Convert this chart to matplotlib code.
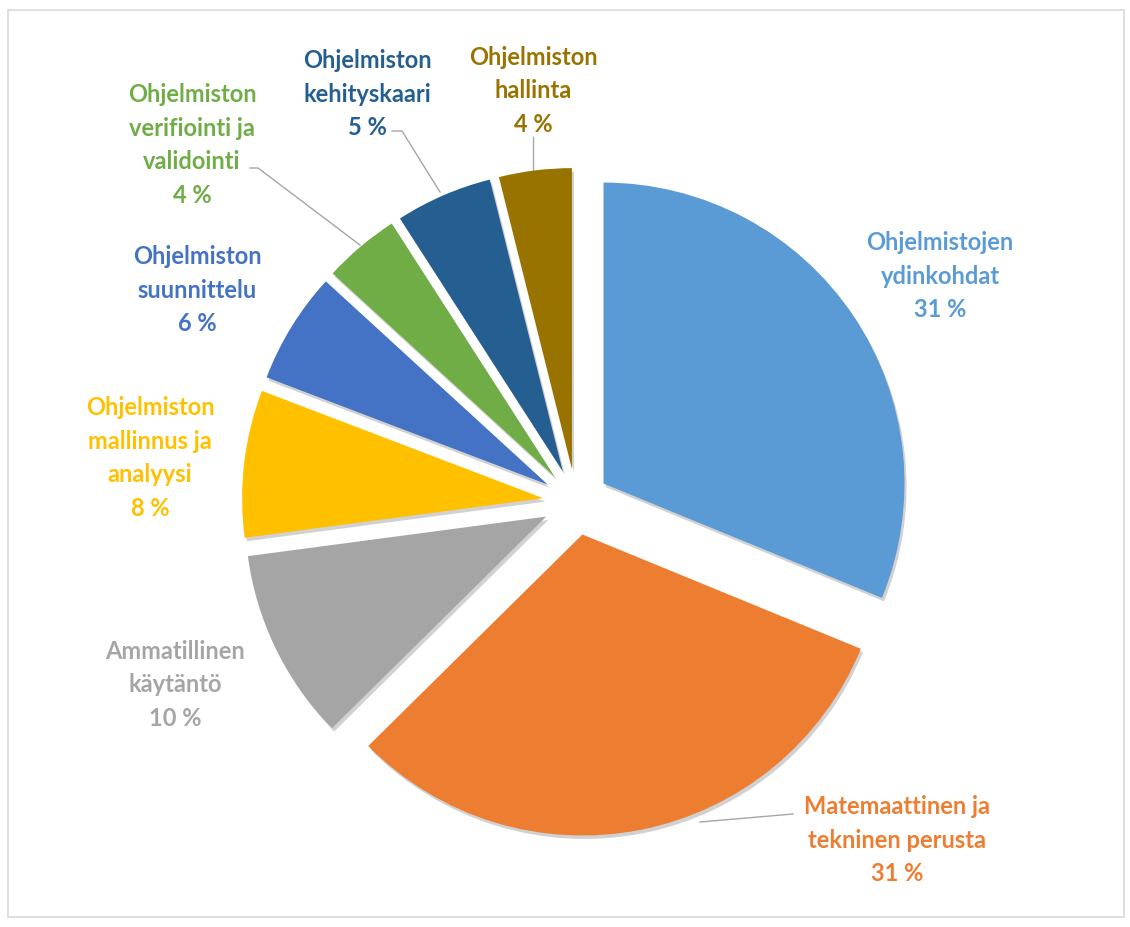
import matplotlib
matplotlib.use("Agg")
import matplotlib.pyplot as plt
from matplotlib.patches import Rectangle
import matplotlib.patheffects as pe

# ---- data ----
categories = [
    "Ohjelmistojen\nydinkohdat",
    "Matemaattinen ja\ntekninen perusta",
    "Ammatillinen\nkäytäntö",
    "Ohjelmiston\nmallinnus ja\nanalyysi",
    "Ohjelmiston\nsuunnittelu",
    "Ohjelmiston\nverifiointi ja\nvalidointi",
    "Ohjelmiston\nkehityskaari",
    "Ohjelmiston\nhallinta",
]
values = [31.2, 31.4, 10.3, 7.9, 6.0, 4.1, 5.2, 3.9]
pct_labels = ["31 %", "31 %", "10 %", "8 %", "6 %", "4 %", "5 %", "4 %"]
colors = ["#5B9BD5", "#ED7D31", "#A5A5A5", "#FFC000",
          "#4472C4", "#70AD47", "#255E91", "#997300"]

# ---- layout (pixel based) ----
W, H = 1130, 927
CX, CY, R = 576, 502, 301

def px(x, y):
    return (x - CX) / R, (CY - y) / R

fig = plt.figure(figsize=(W / 100, H / 100), dpi=100)
ax = fig.add_axes([0, 0, 1, 1])

wedges, _ = ax.pie(values, colors=colors, startangle=90, counterclock=False,
                   explode=[0.11] * len(values), radius=1.0,
                   wedgeprops=dict(linewidth=0))
ax.set_xlim(-CX / R, (W - CX) / R)
ax.set_ylim((CY - H) / R, CY / R)
ax.set_aspect("auto")
ax.axis("off")

for w in wedges:
    w.set_path_effects([pe.SimplePatchShadow(offset=(1.5, -2.5), shadow_rgbFace="#000000", alpha=0.18),
                        pe.Normal()])

# label text positions (pixel centres)
label_pos = [(940, 276), (897, 840), (175, 685), (150, 458),
             (197, 290), (192, 145), (367, 94), (533, 91)]

for cat, pct, col, (lx, ly) in zip(categories, pct_labels, colors, label_pos):
    X, Y = px(lx, ly)
    ax.text(X, Y, cat + "\n" + pct, ha="center", va="center", color=col,
            fontsize=17, fontweight="bold", family=["Lato", "DejaVu Sans"],
            linespacing=1.55)

# leader lines
leaders = [
    [(793, 814), (700, 822)],
    [(250, 168), (258, 168), (360, 245)],
    [(392, 131), (402, 131), (440, 192)],
    [(533, 137), (533, 172)],
]
for pts in leaders:
    xs, ys = zip(*[px(x, y) for x, y in pts])
    ax.plot(xs, ys, color="#A6A6A6", lw=1.0, zorder=0.5)

# chart border
fig.patches.append(Rectangle((8 / W, (H - 917) / H), (1124 - 8) / W, (917 - 10) / H,
                             transform=fig.transFigure, fill=False,
                             edgecolor="#D9D9D9", lw=1.2))

fig.savefig("out.png", dpi=100)
